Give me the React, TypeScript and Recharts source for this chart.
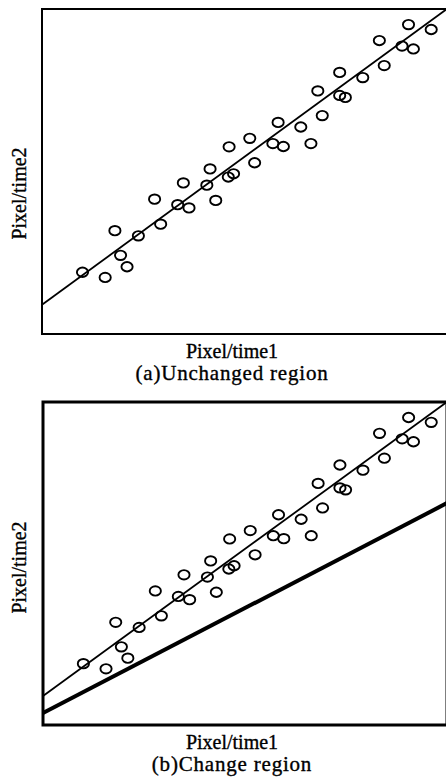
import { ScatterChart, Scatter, XAxis, YAxis, ReferenceLine, ReferenceArea } from "recharts";

// Pixel values, time 1 vs time 2 (same samples in both panels)
const time1 = [
  10.0, 15.6, 18.0, 19.4, 21.0, 23.8, 27.8, 29.3, 33.5, 34.9, 36.3, 40.7,
  41.5, 42.9, 46.0, 47.3, 46.2, 51.3, 52.5, 57.0, 58.3, 59.6, 63.9, 66.4,
  69.2, 68.1, 73.5, 73.5, 74.9, 79.2, 83.3, 84.5, 88.9, 91.7, 90.5, 96.1,
];
const time2 = [
  19.0, 17.4, 31.8, 24.2, 20.7, 30.2, 41.5, 33.8, 39.8, 46.5, 38.8, 45.8,
  50.8, 41.1, 48.3, 49.3, 57.6, 60.2, 52.7, 58.6, 65.1, 57.7, 63.7, 58.6,
  67.2, 74.8, 80.5, 73.4, 72.8, 78.9, 90.3, 82.6, 88.6, 87.7, 95.2, 93.7,
];
// fitted line and change threshold, as [start, end] y at x = 0 and x = 100
const fitLine = [9, 100];
const changeLine = [3.7, 68.7];

const captions = ["(a)Unchanged region", "(b)Change region"];
const xTitle = "Pixel/time1";
const yTitle = "Pixel/time2";

const points = time1.map((x, i) => ({ x, y: time2[i] }));

const font = "'Liberation Serif', 'Times New Roman', serif";

const ring = (p: any) => (
  <ellipse cx={p.cx} cy={p.cy} rx={5.6} ry={4.7} fill="none" stroke="#000" strokeWidth={1.9} />
);

function Panel({ caption, showChange, left, top, border, yShift }: any) {
  return (
    <ScatterChart width={447} height={390} margin={{ top, right: 0, bottom: 0, left: 0 }}>
      <XAxis
        type="number"
        dataKey="x"
        domain={[0, 100]}
        tick={false}
        tickLine={false}
        axisLine={false}
        height={390 - top - (top === 9 ? 325 : 323)}
        label={{
          content: (p: any) => {
            const vb = p.viewBox;
            const cx = 232;
            return (
              <g fontFamily={font} fontSize={20} fill="#000" stroke="#000" strokeWidth={0.35} textAnchor="middle">
                <text x={cx} y={vb.y + 24}>{xTitle}</text>
                <text x={cx} y={vb.y + 46} fontSize={21} letterSpacing={0.8}>{caption}</text>
              </g>
            );
          },
        }}
      />
      <YAxis
        type="number"
        dataKey="y"
        domain={[0, 100]}
        tick={false}
        tickLine={false}
        axisLine={false}
        width={left}
        label={{
          content: (p: any) => {
            const vb = p.viewBox;
            const cy = vb.y + vb.height / 2 + yShift;
            return (
              <text
                x={19}
                y={cy}
                transform={`rotate(-90 19 ${cy})`}
                fontFamily={font}
                fontSize={20}
                fill="#000"
                stroke="#000"
                strokeWidth={0.35}
                textAnchor="middle"
                dominantBaseline="central"
              >
                {yTitle}
              </text>
            );
          },
        }}
      />
      <ReferenceArea x1={0} x2={100} y1={0} y2={100} fill="none" stroke="#000" strokeWidth={border} />
      <ReferenceLine
        segment={[{ x: 0, y: fitLine[0] }, { x: 100, y: fitLine[1] }]}
        stroke="#000"
        strokeWidth={1.8}
      />
      {showChange && (
        <ReferenceLine
          segment={[{ x: 0, y: changeLine[0] }, { x: 100, y: changeLine[1] }]}
          stroke="#000"
          strokeWidth={4}
        />
      )}
      <Scatter data={points} shape={ring} isAnimationActive={false} />
    </ScatterChart>
  );
}

export default function App() {
  return (
    <div style={{ width: 446, height: 780, overflow: "hidden", background: "#fff" }}>
      <style>{"body{margin:0;}"}</style>
      <Panel caption={captions[0]} showChange={false} left={42} top={9} border={2} yShift={22} />
      <Panel caption={captions[1]} showChange={true} left={43} top={12} border={3} yShift={4} />
    </div>
  );
}
